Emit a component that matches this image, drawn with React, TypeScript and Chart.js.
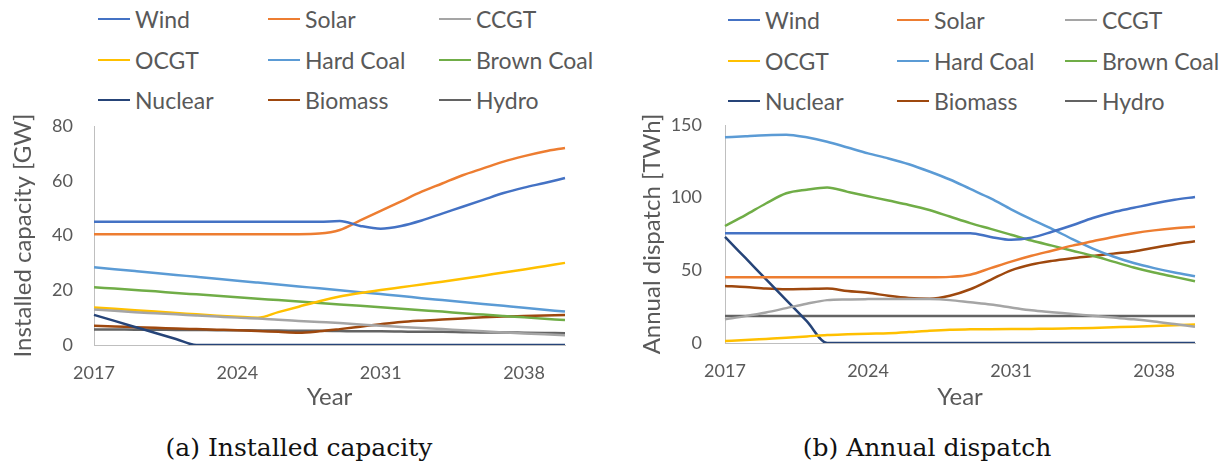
import React, { useEffect, useRef } from "react";
import { Chart, registerables } from "chart.js";

Chart.register(...registerables);

// ---------------- data ----------------
const years = [
  "2017", "2018", "2019", "2020", "2021", "2022", "2023", "2024", "2025", "2026", "2027", "2028",
  "2029", "2030", "2031", "2032", "2033", "2034", "2035", "2036", "2037", "2038", "2039", "2040",
];
const tickYears = ["2017", "2024", "2031", "2038"];

const seriesNames = ["Wind", "Solar", "CCGT", "OCGT", "Hard Coal", "Brown Coal", "Nuclear", "Biomass", "Hydro"];
const seriesColors = ["#4472C4", "#ED7D31", "#A5A5A5", "#FFC000", "#5B9BD5", "#70AD47", "#264478", "#9E480E", "#636363"];

// (a) Installed capacity [GW]
const capWind = [45, 45, 45, 45, 45, 45, 45, 45, 45, 45, 45, 45, 45.3, 43.5, 42.5, 43.5, 45.5, 48, 50.5, 53, 55.5, 57.5, 59.2, 61];
const capSolar = [40.5, 40.5, 40.5, 40.5, 40.5, 40.5, 40.5, 40.5, 40.5, 40.5, 40.5, 40.7, 42, 45.5, 49, 52.5, 56, 59, 62, 64.5, 67, 69, 70.7, 72];
const capCCGT = [13.0, 12.5, 12.0, 11.6, 11.2, 10.8, 10.4, 10.0, 9.7, 9.2, 8.8, 8.4, 8.0, 7.5, 7.0, 6.6, 6.2, 5.8, 5.4, 5.0, 4.6, 4.2, 3.9, 3.6];
const capOCGT = [13.7, 13.2, 12.7, 12.2, 11.7, 11.2, 10.7, 10.3, 10.0, 12.0, 14.0, 16.0, 17.7, 19.0, 20.1, 21.1, 22.1, 23.1, 24.2, 25.3, 26.5, 27.6, 28.8, 30.0];
const capHardCoal = [28.4, 27.7, 27.0, 26.3, 25.6, 24.9, 24.2, 23.5, 22.8, 22.1, 21.4, 20.7, 20.0, 19.3, 18.6, 17.9, 17.1, 16.4, 15.7, 15.0, 14.3, 13.6, 12.9, 12.2];
const capBrownCoal = [21.1, 20.6, 20.1, 19.6, 19.0, 18.5, 18.0, 17.4, 16.9, 16.4, 15.9, 15.3, 14.8, 14.3, 13.8, 13.2, 12.7, 12.2, 11.6, 11.1, 10.6, 10.1, 9.6, 9.1];
const capNuclear = [11.0, 8.8, 6.6, 4.4, 2.2, 0, 0, 0, 0, 0, 0, 0, 0, 0, 0, 0, 0, 0, 0, 0, 0, 0, 0, 0];
const capBiomass = [7.0, 6.8, 6.5, 6.3, 6.0, 5.8, 5.6, 5.4, 5.1, 4.8, 4.5, 5.0, 5.8, 6.7, 7.6, 8.4, 8.9, 9.3, 9.7, 10.1, 10.4, 10.6, 10.8, 11.0];
const capHydro = [5.7, 5.7, 5.6, 5.6, 5.5, 5.5, 5.4, 5.4, 5.3, 5.3, 5.2, 5.2, 5.1, 5.0, 5.0, 4.9, 4.8, 4.8, 4.7, 4.6, 4.6, 4.5, 4.4, 4.3];

// (b) Annual dispatch [TWh]
const dispWind = [75.5, 75.5, 75.5, 75.5, 75.5, 75.5, 75.5, 75.5, 75.5, 75.5, 75.5, 75.5, 75.5, 73, 71, 72.5, 76.5, 81, 86, 90, 93, 96, 98.5, 100.5];
const dispSolar = [45.2, 45.2, 45.2, 45.2, 45.2, 45.2, 45.2, 45.2, 45.2, 45.2, 45.2, 45.5, 47, 51.5, 56, 60, 63.5, 67, 70, 73, 75.5, 77.5, 79, 80];
const dispCCGT = [16.3, 18.5, 21, 24, 27, 29.5, 30, 30.2, 30.3, 30.3, 30.2, 29.5, 28, 26.5, 24.5, 22.5, 21.2, 20, 18.7, 17.5, 16.3, 14.8, 13, 11.2];
const dispOCGT = [1.4, 2.0, 2.8, 3.6, 4.5, 5.5, 6.0, 6.4, 6.7, 7.5, 8.5, 9.2, 9.4, 9.5, 9.6, 9.7, 9.8, 10.1, 10.4, 10.8, 11.2, 11.7, 12.2, 12.8];
const dispHardCoal = [141.5, 142.3, 143.0, 143.3, 141.5, 138.5, 134.5, 130.5, 127, 123, 118, 112.5, 106, 99.5, 92, 85, 78.5, 71.5, 65, 59.5, 55, 51.5, 48.5, 46];
const dispBrownCoal = [80.5, 88, 96, 103, 105.5, 107, 104, 101, 98, 95, 91.5, 87, 82.5, 78.5, 74.5, 70.5, 67, 63.5, 60, 56, 52, 48.5, 45.5, 42.5];
const dispNuclear = [73, 58.5, 44, 29.5, 15, 0, 0, 0, 0, 0, 0, 0, 0, 0, 0, 0, 0, 0, 0, 0, 0, 0, 0, 0];
const dispBiomass = [39.2, 38.5, 37.5, 37.0, 37.2, 37.5, 35.8, 34.5, 32.5, 31, 30.5, 32.5, 37, 43.5, 50, 54, 56.5, 58.3, 59.8, 61.5, 63, 65.5, 68, 70];
const dispHydro = [18.5, 18.5, 18.5, 18.5, 18.5, 18.5, 18.5, 18.5, 18.5, 18.5, 18.5, 18.5, 18.5, 18.5, 18.5, 18.5, 18.5, 18.5, 18.5, 18.5, 18.5, 18.5, 18.5, 18.5];

const capSeries = [capWind, capSolar, capCCGT, capOCGT, capHardCoal, capBrownCoal, capNuclear, capBiomass, capHydro];
const dispSeries = [dispWind, dispSolar, dispCCGT, dispOCGT, dispHardCoal, dispBrownCoal, dispNuclear, dispBiomass, dispHydro];

// ---------------- style ----------------
const TEXT = "#595959";
const AXIS = "#BFBFBF";
const SANS = "Lato, 'Open Sans', sans-serif";

type Geo = {
  left: number;
  top: number;
  width: number;
  height: number;
  yAxisWidth: number;
  xAxisHeight: number;
  padTop: number;
  padRight: number;
  yTickPad: number;
  yTitlePad: number;
};

function LineChart(props: { geo: Geo; series: number[][]; yMax: number; yStep: number; yTitle: string }) {
  const ref = useRef<HTMLCanvasElement | null>(null);
  const { geo, series, yMax, yStep, yTitle } = props;

  useEffect(() => {
    if (!ref.current) return;
    const chart = new Chart(ref.current, {
      type: "line",
      data: {
        labels: years,
        datasets: series.map((d, i) => ({
          label: seriesNames[i],
          data: d,
          borderColor: seriesColors[i],
          backgroundColor: seriesColors[i],
          borderWidth: 2.5,
          pointRadius: 0,
          pointHoverRadius: 0,
          cubicInterpolationMode: "monotone" as const,
          fill: false,
        })),
      },
      options: {
        responsive: false,
        animation: false,
        layout: { padding: { top: geo.padTop, right: geo.padRight, left: 0, bottom: 0 } },
        plugins: { legend: { display: false }, tooltip: { enabled: false } },
        scales: {
          x: {
            type: "category",
            offset: false,
            grid: { display: false, drawTicks: false },
            border: { display: true, color: AXIS, width: 1 },
            ticks: {
              autoSkip: false,
              maxRotation: 0,
              padding: 17,
              color: TEXT,
              font: { family: SANS, size: 18 },
              callback: (_v: any, i: number) => (tickYears.includes(years[i]) ? years[i] : ""),
            },
            title: {
              display: true,
              text: "Year",
              color: TEXT,
              font: { family: SANS, size: 24 },
              padding: { top: 0, bottom: 8 },
            },
            afterFit: (s: any) => {
              s.height = geo.xAxisHeight;
            },
          },
          y: {
            min: 0,
            max: yMax,
            grid: { display: false, drawTicks: false },
            border: { display: true, color: AXIS, width: 1 },
            ticks: {
              stepSize: yStep,
              padding: geo.yTickPad,
              color: TEXT,
              font: { family: SANS, size: 18 },
            },
            title: {
              display: true,
              text: yTitle,
              color: TEXT,
              font: { family: SANS, size: 24 },
              padding: { top: geo.yTitlePad, bottom: 0 },
            },
            afterFit: (s: any) => {
              s.width = geo.yAxisWidth;
              s.paddingTop = 11;
              s.paddingBottom = 11;
            },
          },
        },
      } as any,
    });
    return () => chart.destroy();
  }, []);

  return (
    <canvas
      ref={ref}
      width={geo.width}
      height={geo.height}
      style={{ position: "absolute", left: geo.left, top: geo.top, width: geo.width, height: geo.height }}
    />
  );
}

function Legend(props: { cols: number[]; rows: number[] }) {
  const { cols, rows } = props;
  return (
    <>
      {seriesNames.map((name, i) => {
        const c = i % 3;
        const r = Math.floor(i / 3);
        return (
          <div
            key={name}
            style={{
              position: "absolute",
              left: cols[c],
              top: rows[r] - 15,
              height: 30,
              display: "flex",
              alignItems: "center",
              whiteSpace: "nowrap",
            }}
          >
            <span style={{ display: "inline-block", width: 32, height: 2.5, background: seriesColors[i] }} />
            <span style={{ marginLeft: 5, fontFamily: SANS, fontSize: 23, color: TEXT, lineHeight: "30px" }}>{name}</span>
          </div>
        );
      })}
    </>
  );
}

function Caption(props: { text: string; center: number }) {
  return (
    <div
      style={{
        position: "absolute",
        left: props.center - 200,
        width: 400,
        top: 433,
        textAlign: "center",
        fontFamily: "'DejaVu Serif', 'Liberation Serif', serif",
        fontSize: 25,
        lineHeight: "30px",
        color: "#111",
      }}
    >
      {props.text}
    </div>
  );
}

const geoA: Geo = {
  left: 0,
  top: 110,
  width: 615,
  height: 310,
  yAxisWidth: 94,
  xAxisHeight: 75,
  padTop: 16,
  padRight: 50,
  yTickPad: 21,
  yTitlePad: 9,
};

const geoB: Geo = {
  left: 615,
  top: 110,
  width: 616,
  height: 310,
  yAxisWidth: 110,
  xAxisHeight: 77,
  padTop: 15,
  padRight: 36,
  yTickPad: 23,
  yTitlePad: 23,
};

export default function App() {
  return (
    <div
      style={{
        position: "fixed",
        left: 0,
        top: 0,
        width: 1231,
        height: 468,
        background: "#fff",
        overflow: "hidden",
      }}
    >
      <Legend cols={[98, 268, 439]} rows={[19, 60, 100]} />
      <Legend cols={[728, 897, 1065]} rows={[20, 61, 101]} />
      <LineChart geo={geoA} series={capSeries} yMax={80} yStep={20} yTitle="Installed capacity [GW]" />
      <LineChart geo={geoB} series={dispSeries} yMax={150} yStep={50} yTitle="Annual dispatch [TWh]" />
      <Caption text="(a) Installed capacity" center={299} />
      <Caption text="(b) Annual dispatch" center={927} />
    </div>
  );
}
